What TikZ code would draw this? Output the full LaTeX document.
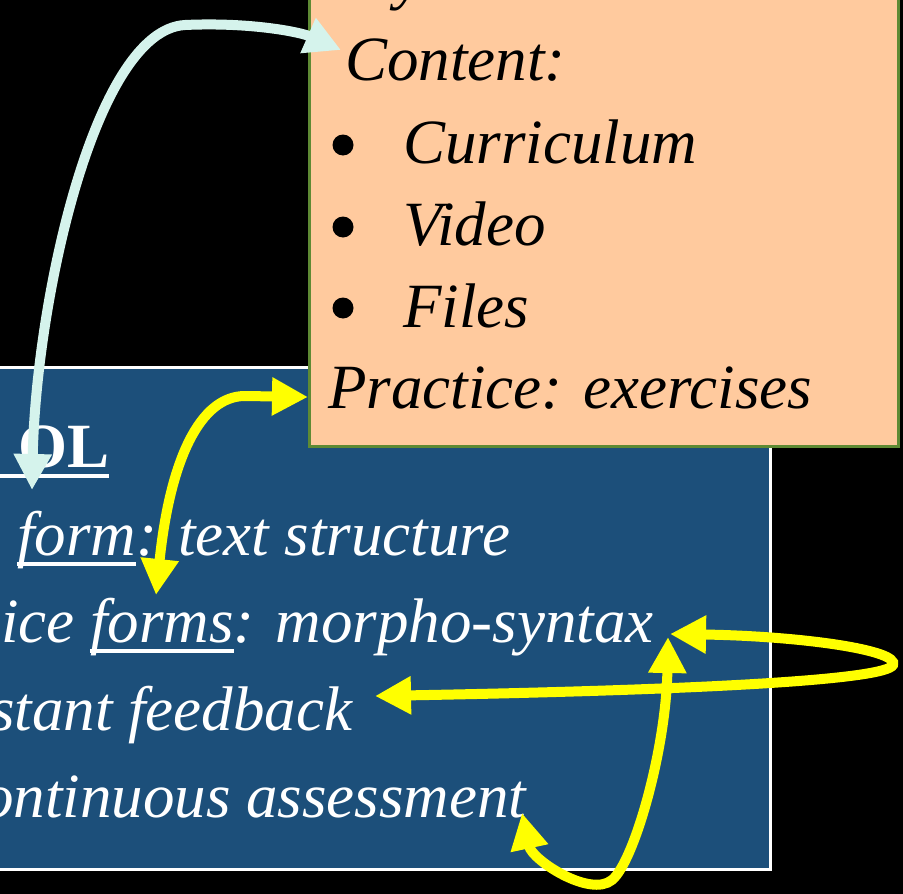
\documentclass[tikz,border=0pt]{standalone}
\usepackage{fontspec}
\setmainfont{Liberation Serif}
\usetikzlibrary{arrows.meta}
\definecolor{slideblue}{RGB}{28,79,122}
\definecolor{peach}{RGB}{255,202,158}
\definecolor{boxgreen}{RGB}{94,138,52}
\definecolor{paleaqua}{RGB}{213,243,236}
\definecolor{hiyellow}{RGB}{255,255,0}
\newcommand\undl[1]{\setbox0\hbox{#1}\rlap{\rule[-11pt]{\wd0}{4pt}}\box0}
\tikzset{
  txt/.style={anchor=base west,inner sep=0pt,font=\fontsize{63}{75}\selectfont\itshape},
  dot/.style={circle,fill=black,inner sep=0pt,minimum size=21pt},
  link/.style={line width=10pt,{Triangle[length=36pt,width=36pt]}-{Triangle[length=36pt,width=36pt]}},
}
\begin{document}
\begin{tikzpicture}[x=1pt,y=-1pt]
    \useasboundingbox (0,0) rectangle (903,894);
    \fill[black] (0,0) rectangle (903,894);
    \draw[line width=3pt,white,fill=slideblue] (-10,367) rectangle (770,869);
    \draw[line width=3pt,boxgreen,fill=peach] (309,-10) rectangle (898,446);
    \node[txt] (topy) at (395,-2) {y};
    \node[txt] (content) at (345,80) {Content:};
    \node[dot] (b1) at (343,145) {};
    \node[txt] (curr) at (403,163) {Curriculum};
    \node[dot] (b2) at (343,227) {};
    \node[txt] (video) at (403,245) {Video};
    \node[dot] (b3) at (343,308) {};
    \node[txt] (files) at (403,327) {Files};
    \node[txt] (practice) at (328,408) {Practice: exercises};
    \node[txt,text=white,font=\fontsize{63}{75}\selectfont\bfseries] (title) at (-2,467) {\undl{\hspace*{20pt}OL}};
    \node[txt,text=white] (form) at (17,555) {\undl{form}: text structure};
    \node[txt,text=white] (forms) at (1,642) {ice \undl{forms}: morpho-syntax};
    \node[txt,text=white] (feedback) at (-10,730) {stant feedback};
    \node[txt,text=white] (assess) at (-18,817) {ontinuous assessment};
    \coordinate (oltip) at (32,490);
    \coordinate (contip) at (341,50);
    \coordinate (practip) at (308,397);
    \coordinate (formstip) at (156,595);
    \coordinate (syntip) at (670,634);
    \coordinate (feedtip) at (375,696);
    \coordinate (asstip) at (522,813);
    \coordinate (syntip2) at (668,637);
    \draw[link,paleaqua] (oltip) .. controls (36,300) and (95,30) .. (185,25) .. controls (250,22) and (300,32) .. (contip);
    \draw[link,hiyellow] (formstip) .. controls (170,460) and (200,396) .. (245,396) -- (practip);
    \draw[link,hiyellow] (syntip) .. controls (800,636) and (900,650) .. (893,665) .. controls (886,680) and (700,690) .. (feedtip);
    \draw[link,hiyellow] (asstip) .. controls (532,860) and (590,898) .. (612,880) .. controls (634,862) and (666,750) .. (syntip2);
\end{tikzpicture}
\end{document}
